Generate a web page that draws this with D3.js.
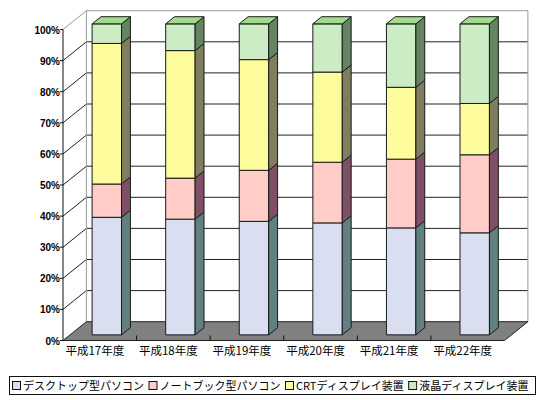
<!DOCTYPE html>
<html>
<head>
<meta charset="utf-8">
<script src="https://cdn.jsdelivr.net/npm/d3@7"></script>
<style>
body { margin: 0; background: #fff; }
text { font-family: "Noto Sans CJK JP", sans-serif; fill: #000; }
</style>
</head>
<body>
<div id="chart"></div>
<script>
// shares by fiscal year (percent)
const categories = ["平成17年度", "平成18年度", "平成19年度", "平成20年度", "平成21年度", "平成22年度"];
const seriesNames = ["デスクトップ型パソコン", "ノートブック型パソコン", "CRTディスプレイ装置", "液晶ディスプレイ装置"];
const desktop = [37.8, 37.2, 36.5, 36.0, 34.4, 32.8];
const notebook = [10.7, 13.2, 16.4, 19.5, 22.1, 25.1];
const crt = [45.2, 41.0, 35.6, 29.0, 23.1, 16.5];
const lcd = [6.3, 8.6, 11.5, 15.5, 20.4, 25.6];
const yTicks = [0, 0.1, 0.2, 0.3, 0.4, 0.5, 0.6, 0.7, 0.8, 0.9, 1];

const frontColors = ["#d9dff0", "#ffccc8", "#fcfc9c", "#ccecc6"];
const sideColors = ["#628080", "#7f4f66", "#7f7f60", "#648464"];
const topColors = ["#b8c4e4", "#f0a8a8", "#e8e87c", "#a0dc8c"];

const width = 550, height = 400;
const svg = d3.select("#chart").append("svg")
    .attr("width", width)
    .attr("height", height);

const rows = categories.map((c, i) => ({
    cat: c,
    [seriesNames[0]]: desktop[i],
    [seriesNames[1]]: notebook[i],
    [seriesNames[2]]: crt[i],
    [seriesNames[3]]: lcd[i]
}));
const stacked = d3.stack().keys(seriesNames).offset(d3.stackOffsetExpand)(rows);

let x = d3.scaleBand().domain(categories).range([63, 504.5]).paddingInner(0.6).paddingOuter(0.3);
let y = d3.scaleLinear().domain([0, 1]).range([340.5, 29.5]);
// depth of the 3d box
let DX = 23.4, DY = -18.8;
let p = (px, v, f) => [px + f * DX, y(v) + f * DY];
let poly = pts => pts.map(q => q.join(",")).join(" ");

let x0 = x.range()[0], x1 = x.range()[1];

// back wall
svg.append("polygon")
    .attr("points", poly([p(x0, 1, 1), p(x1, 1, 1), p(x1, 0, 1), p(x0, 0, 1)]))
    .attr("fill", "#fff");

let grid = svg.append("g").attr("stroke", "#222").attr("stroke-width", 1);
yTicks.filter(t => t > 0 && t < 1).forEach(t => {
    grid.append("line")
        .attr("x1", p(x0, t, 1)[0]).attr("y1", p(x0, t, 1)[1])
        .attr("x2", p(x1, t, 1)[0]).attr("y2", p(x1, t, 1)[1]);
    grid.append("line")
        .attr("x1", p(x0, t, 0)[0]).attr("y1", p(x0, t, 0)[1])
        .attr("x2", p(x0, t, 1)[0]).attr("y2", p(x0, t, 1)[1]);
});

// wall border
svg.append("polyline")
    .attr("points", poly([p(x0, 1, 0), p(x0, 1, 1), p(x1, 1, 1), p(x1, 0, 1)]))
    .attr("fill", "none").attr("stroke", "#999");
svg.append("line")
    .attr("x1", p(x0, 0, 1)[0]).attr("y1", p(x0, 0, 1)[1])
    .attr("x2", p(x0, 1, 1)[0]).attr("y2", p(x0, 1, 1)[1])
    .attr("stroke", "#999");

// floor
svg.append("polygon")
    .attr("points", poly([p(x0, 0, 0), p(x1, 0, 0), p(x1, 0, 1), p(x0, 0, 1)]))
    .attr("fill", "#808080").attr("stroke", "#222");

// value axis
let yAxis = svg.append("g");
yAxis.append("line")
    .attr("x1", x0).attr("y1", y(0)).attr("x2", x0).attr("y2", y(1))
    .attr("stroke", "#111");
yTicks.forEach(t => {
    yAxis.append("line")
        .attr("x1", x0 - 3).attr("y1", y(t)).attr("x2", x0).attr("y2", y(t))
        .attr("stroke", "#111");
    yAxis.append("text")
        .attr("x", x0 - 3).attr("y", y(t) + 4)
        .attr("text-anchor", "end")
        .attr("font-size", 10).attr("font-weight", "bold")
        .style("font-family", "'Liberation Sans', Arial, sans-serif")
        .text(d3.format(".0%")(t));
});

// category ticks and labels
let step = x.step();
d3.range(1, categories.length).forEach(i => {
    svg.append("line")
        .attr("x1", x0 + i * step).attr("y1", y(0) - 5)
        .attr("x2", x0 + i * step).attr("y2", y(0))
        .attr("stroke", "#111");
});
svg.append("g").selectAll("text").data(categories).join("text")
    .attr("x", d => x(d) + x.bandwidth() / 2 - 5)
    .attr("y", y(0) + 14)
    .attr("text-anchor", "middle")
    .attr("font-size", 11.5)
    .text(d => d);

// bars
let f0 = 0.3, f1 = 0.68;
let bars = svg.append("g").attr("stroke", "#1a1a1a").attr("stroke-width", 1).attr("stroke-linejoin", "round");
categories.forEach((c, j) => {
    stacked.forEach((layer, i) => {
        let d = layer[j];
        let bx = x(c), bw = x.bandwidth();
        bars.append("polygon")
            .attr("points", poly([p(bx, d[1], f0), p(bx + bw, d[1], f0), p(bx + bw, d[0], f0), p(bx, d[0], f0)]))
            .attr("fill", frontColors[i]);
        bars.append("polygon")
            .attr("points", poly([p(bx + bw, d[0], f0), p(bx + bw, d[0], f1), p(bx + bw, d[1], f1), p(bx + bw, d[1], f0)]))
            .attr("fill", sideColors[i]);
        if (i == stacked.length - 1) {
            bars.append("polygon")
                .attr("points", poly([p(bx, d[1], f0), p(bx + bw, d[1], f0), p(bx + bw, d[1], f1), p(bx, d[1], f1)]))
                .attr("fill", topColors[i]);
        }
    });
});

// legend
let legend = svg.append("g");
legend.append("rect")
    .attr("x", 9.5).attr("y", 376.5).attr("width", 526).attr("height", 18)
    .attr("fill", "#fff").attr("stroke", "#111");
let lx = 12.5;
seriesNames.forEach((s, i) => {
    legend.append("rect")
        .attr("x", lx).attr("y", 381.5).attr("width", 8).attr("height", 8)
        .attr("fill", frontColors[i]).attr("stroke", "#111");
    let t = legend.append("text")
        .attr("x", lx + 10.5).attr("y", 389.5)
        .attr("font-size", 11)
        .text(s);
    lx += 10.5 + t.node().getComputedTextLength() + 5;
});
</script>
</body>
</html>
